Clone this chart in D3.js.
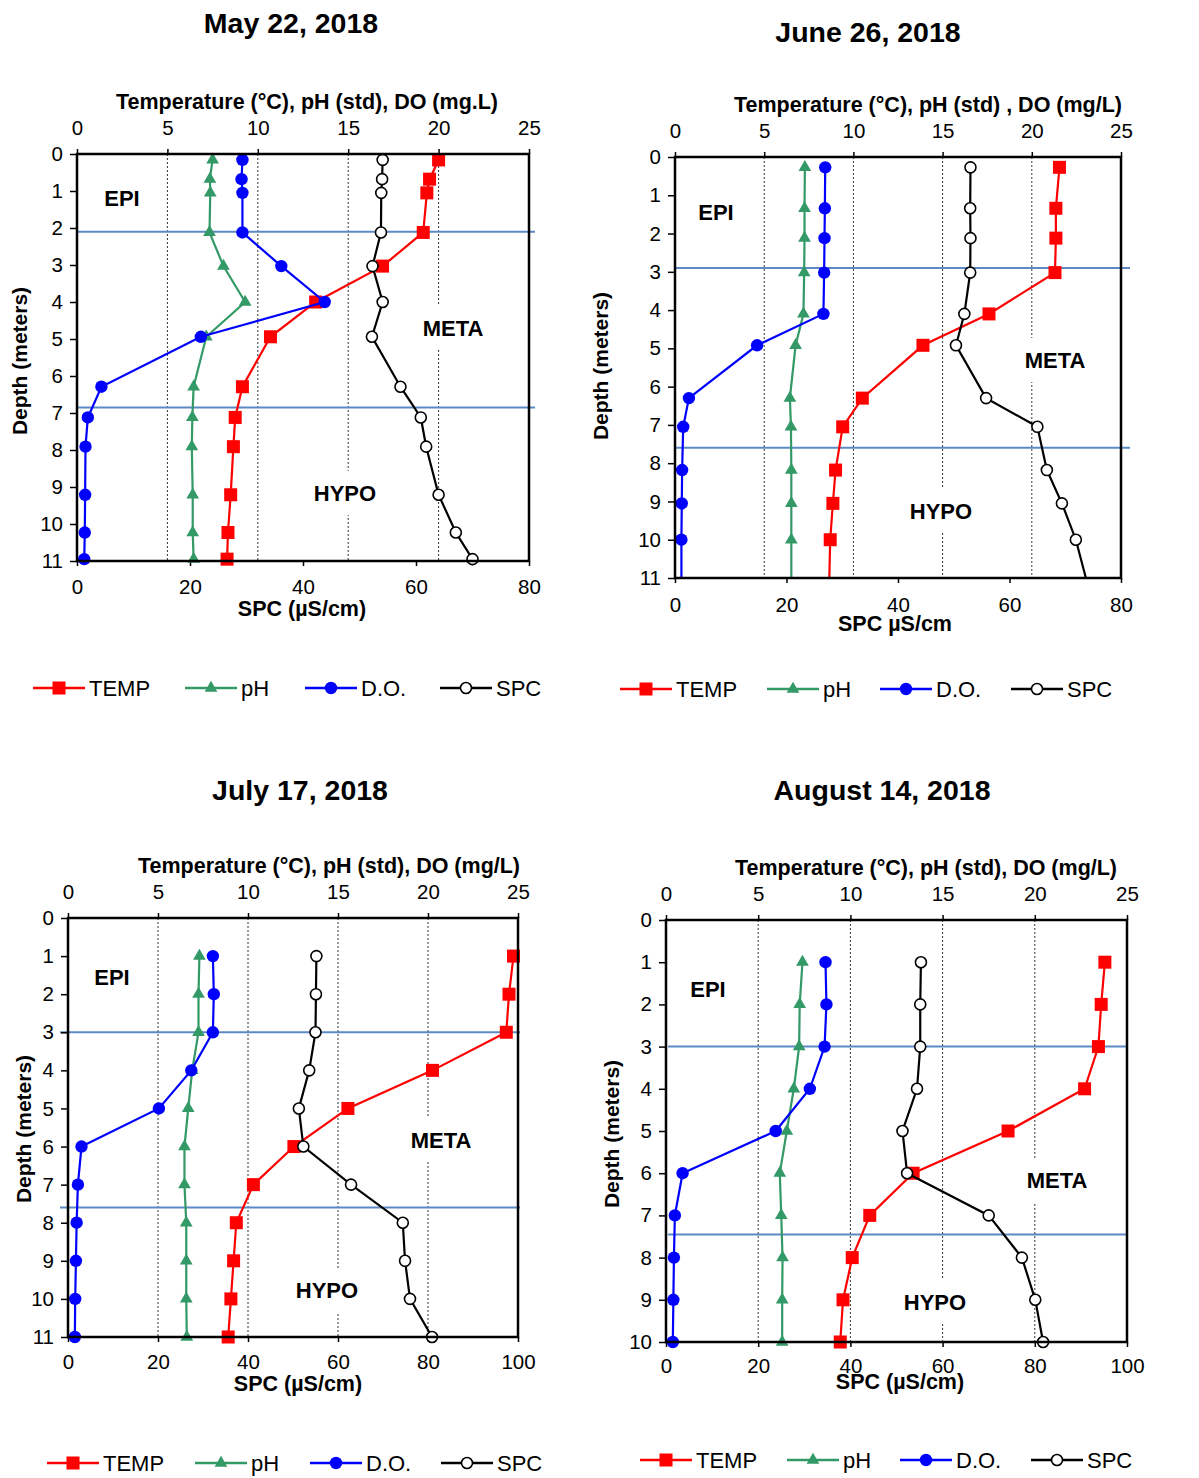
<!DOCTYPE html>
<html><head><meta charset="utf-8">
<script src="https://cdn.jsdelivr.net/npm/d3@7"></script>
<style>
body{margin:0;background:#fff;}
text{font-family:"Liberation Sans",Arial,Helvetica,sans-serif;fill:#000;}
</style>
</head><body>
<svg id="chart" width="1199" height="1478"></svg>
<script>
// ---------------- DATA ----------------
const seriesNames = ["TEMP", "pH", "D.O.", "SPC"];
const panelTitles = ["May 22, 2018", "June 26, 2018", "July 17, 2018", "August 14, 2018"];
const topAxisTitles = [
  "Temperature (°C), pH (std), DO (mg.L)",
  "Temperature (°C), pH (std) , DO (mg/L)",
  "Temperature (°C), pH (std), DO (mg/L)",
  "Temperature (°C), pH (std), DO (mg/L)"
];
const bottomAxisTitles = ["SPC (µS/cm)", "SPC µS/cm", "SPC (µS/cm)", "SPC (µS/cm)"];
const depthAxisTitle = "Depth (meters)";
const zoneLabels = ["EPI", "META", "HYPO"];

const topTicks = [0, 5, 10, 15, 20, 25];
const gridValues = [5, 10, 15, 20];
const spcTicks80 = [0, 20, 40, 60, 80];
const spcTicks100 = [0, 20, 40, 60, 80, 100];
const depthTicks11 = [0, 1, 2, 3, 4, 5, 6, 7, 8, 9, 10, 11];
const depthTicks10 = [0, 1, 2, 3, 4, 5, 6, 7, 8, 9, 10];

// May 22, 2018
const mayDepth = [0.16, 0.68, 1.05, 2.12, 3.03, 4.0, 4.94, 6.29, 7.12, 7.91, 9.21, 10.23, 10.95];
const mayTemp  = [20.0, 19.5, 19.35, 19.15, 16.9, 13.2, 10.7, 9.15, 8.75, 8.65, 8.5, 8.35, 8.3];
const maypH    = [7.5, 7.35, 7.37, 7.33, 8.1, 9.3, 7.15, 6.45, 6.38, 6.35, 6.4, 6.4, 6.45];
const mayDO    = [9.15, 9.1, 9.15, 9.15, 11.3, 13.7, 6.85, 1.35, 0.6, 0.47, 0.45, 0.43, 0.4];
const maySPC   = [54.1, 54.0, 53.85, 53.8, 52.3, 54.1, 52.2, 57.25, 60.85, 61.8, 64.0, 67.05, 70.0];
const mayBounds = [2.1, 6.85];

// June 26, 2018 (last row: line reaches 11 m without a marker)
const juneDepth = [0.27, 1.34, 2.12, 3.02, 4.1, 4.92, 6.3, 7.05, 8.18, 9.05, 10.0, 11.0];
const juneTemp  = [21.55, 21.35, 21.35, 21.3, 17.6, 13.9, 10.5, 9.4, 9.0, 8.85, 8.7, 8.65];
const junepH    = [7.28, 7.26, 7.26, 7.24, 7.2, 6.76, 6.44, 6.5, 6.52, 6.52, 6.52, 6.52];
const juneDO    = [8.42, 8.4, 8.38, 8.36, 8.32, 4.6, 0.78, 0.46, 0.4, 0.38, 0.36, 0.36];
const juneSPC   = [53.0, 52.95, 53.0, 52.95, 51.9, 50.4, 55.8, 65.0, 66.7, 69.4, 71.9, 73.7];
const juneBounds = [2.9, 7.6];

// July 17, 2018
const julyDepth = [1, 2, 3, 4, 5, 6, 7, 8, 9, 10, 11];
const julyTemp  = [24.75, 24.5, 24.35, 20.25, 15.55, 12.55, 10.3, 9.35, 9.2, 9.05, 8.9];
const julypH    = [7.3, 7.25, 7.25, 6.9, 6.68, 6.47, 6.47, 6.57, 6.57, 6.57, 6.6];
const julyDO    = [8.05, 8.1, 8.05, 6.85, 5.05, 0.75, 0.55, 0.48, 0.44, 0.4, 0.38];
const julySPC   = [55.2, 55.1, 55.0, 53.6, 51.3, 52.3, 62.9, 74.4, 74.9, 76.0, 80.9];
const julyBounds = [3.0, 7.6];

// August 14, 2018
const augDepth = [1, 2, 3, 4, 5, 6, 7, 8, 9, 10];
const augTemp  = [23.8, 23.6, 23.45, 22.7, 18.55, 13.4, 11.05, 10.1, 9.6, 9.45];
const augpH    = [7.4, 7.25, 7.22, 6.93, 6.55, 6.17, 6.25, 6.32, 6.3, 6.3];
const augDO    = [8.65, 8.7, 8.6, 7.8, 5.95, 0.9, 0.48, 0.43, 0.4, 0.37];
const augSPC   = [55.3, 55.15, 55.15, 54.45, 51.3, 52.3, 70.0, 77.2, 80.1, 81.8];
const augBounds = [3.0, 7.45];

// ---------------- LAYOUT / STYLE ----------------
const colors = {TEMP: "#ff0000", pH: "#339966", "D.O.": "#0000ff", SPC: "#000000"};
const boundColor = "#5b8ac6";

const panels = [
  {title: panelTitles[0], topTitle: topAxisTitles[0], botTitle: bottomAxisTitles[0],
   depth: mayDepth, vals: [mayTemp, maypH, mayDO, maySPC], bounds: mayBounds,
   depthTicks: depthTicks11, depthMax: 11, spcTicks: spcTicks80, spcMax: 80, markAll: true,
   L: 77, R: 529, T: 154, B: 561,
   titleX: 291, titleY: 23, topTitleX: 307, botTitleX: 302, botTickDy: 26, botTitleDy: 47,
   yTitleX: 20, yTitleY: 361, boundX: [77, 535],
   labels: [[122, 198], [453, 328], [345, 493]],
   legY: 688, legX: [33, 185, 305, 440]},
  {title: panelTitles[1], topTitle: topAxisTitles[1], botTitle: bottomAxisTitles[1],
   depth: juneDepth, vals: [juneTemp, junepH, juneDO, juneSPC], bounds: juneBounds,
   depthTicks: depthTicks11, depthMax: 11, spcTicks: spcTicks80, spcMax: 80, markAll: false,
   L: 675, R: 1121, T: 157, B: 578,
   titleX: 868, titleY: 32, topTitleX: 928, botTitleX: 895, botTickDy: 27, botTitleDy: 45,
   yTitleX: 601, yTitleY: 366, boundX: [675, 1130],
   labels: [[716, 212], [1055, 360], [941, 511]],
   legY: 689, legX: [620, 767, 880, 1011]},
  {title: panelTitles[2], topTitle: topAxisTitles[2], botTitle: bottomAxisTitles[2],
   depth: julyDepth, vals: [julyTemp, julypH, julyDO, julySPC], bounds: julyBounds,
   depthTicks: depthTicks11, depthMax: 11, spcTicks: spcTicks100, spcMax: 100, markAll: true,
   L: 68, R: 518, T: 918, B: 1337,
   titleX: 300, titleY: 790, topTitleX: 329, botTitleX: 298, botTickDy: 25, botTitleDy: 46,
   yTitleX: 24, yTitleY: 1129, boundX: [60, 520],
   labels: [[112, 977], [441, 1140], [327, 1290]],
   legY: 1463, legX: [47, 195, 310, 441]},
  {title: panelTitles[3], topTitle: topAxisTitles[3], botTitle: bottomAxisTitles[3],
   depth: augDepth, vals: [augTemp, augpH, augDO, augSPC], bounds: augBounds,
   depthTicks: depthTicks10, depthMax: 10, spcTicks: spcTicks100, spcMax: 100, markAll: true,
   L: 666, R: 1127, T: 920, B: 1342,
   titleX: 882, titleY: 790, topTitleX: 926, botTitleX: 900, botTickDy: 24, botTitleDy: 39,
   yTitleX: 612, yTitleY: 1134, boundX: [668, 1127],
   labels: [[708, 989], [1057, 1180], [935, 1302]],
   legY: 1460, legX: [640, 787, 900, 1031]}
];

const svg = d3.select("#chart");

function drawMarker(g, name, x, y) {
  const c = colors[name];
  if (name === "TEMP") {
    g.append("rect").attr("x", x - 6.5).attr("y", y - 6.5).attr("width", 13).attr("height", 13).attr("fill", c);
  } else if (name === "pH") {
    g.append("path").attr("d", d3.symbol(d3.symbolTriangle, 70)()).attr("transform", `translate(${x},${y})`).attr("fill", c);
  } else if (name === "D.O.") {
    g.append("circle").attr("cx", x).attr("cy", y).attr("r", 6.2).attr("fill", c);
  } else {
    g.append("circle").attr("cx", x).attr("cy", y).attr("r", 5.5).attr("fill", "#fff").attr("stroke", c).attr("stroke-width", 1.6);
  }
}

panels.forEach(p => {
  const g = svg.append("g");
  const y = d3.scaleLinear().domain([0, p.depthMax]).range([p.T, p.B]);
  const xTop = d3.scaleLinear().domain([0, 25]).range([p.L, p.R]);
  const xBot = d3.scaleLinear().domain([0, p.spcMax]).range([p.L, p.R]);

  // title
  g.append("text").attr("x", p.titleX).attr("y", p.titleY).attr("dy", "0.35em")
    .attr("text-anchor", "middle").attr("font-size", 28.5).attr("font-weight", "bold").text(p.title);

  // gridlines
  g.selectAll(".grid").data(gridValues).enter().append("line")
    .attr("x1", d => xTop(d)).attr("x2", d => xTop(d)).attr("y1", p.T).attr("y2", p.B)
    .attr("stroke", "#000").attr("stroke-width", 0.8).attr("stroke-dasharray", "2,2");

  // zone labels with white background
  zoneLabels.forEach((lab, i) => {
    const [lx, ly] = p.labels[i];
    const t = g.append("text").attr("x", lx).attr("y", ly).attr("dy", "0.35em")
      .attr("text-anchor", "middle").attr("font-size", 22).attr("font-weight", "bold").text(lab);
    const w = t.node().getComputedTextLength();
    g.insert("rect", () => t.node()).attr("x", lx - w / 2 - 6).attr("y", ly - 22)
      .attr("width", w + 12).attr("height", 44).attr("fill", "#fff");
  });

  // boundary lines
  g.selectAll(".bound").data(p.bounds).enter().append("line")
    .attr("x1", p.boundX[0]).attr("x2", p.boundX[1]).attr("y1", d => y(d)).attr("y2", d => y(d))
    .attr("stroke", boundColor).attr("stroke-width", 2);

  // axes
  const topAxis = d3.axisTop(xTop).tickValues(topTicks).tickSize(5).tickPadding(6).tickFormat(d3.format("d"));
  const botAxis = d3.axisBottom(xBot).tickValues(p.spcTicks).tickSize(5).tickFormat(d3.format("d"));
  const leftAxis = d3.axisLeft(y).tickValues(p.depthTicks).tickSize(7).tickPadding(7).tickFormat(d3.format("d"));

  const ta = g.append("g").attr("transform", `translate(0,${p.T})`).call(topAxis);
  const ba = g.append("g").attr("transform", `translate(0,${p.B})`).call(botAxis);
  const la = g.append("g").attr("transform", `translate(${p.L},0)`).call(leftAxis);
  [ta, ba, la].forEach(a => {
    a.select(".domain").remove();
    a.selectAll(".tick line").attr("stroke", "#000").attr("stroke-width", 1.5);
    a.selectAll(".tick text").attr("font-size", 20.5).attr("fill", "#000")
      .attr("font-family", '"Liberation Sans",Arial,sans-serif');
  });
  ta.selectAll(".tick text").attr("y", -26).attr("dy", "0.35em");
  ba.selectAll(".tick text").attr("y", p.botTickDy).attr("dy", "0.35em");

  // axis titles
  g.append("text").attr("x", p.topTitleX).attr("y", p.T - 53).attr("dy", "0.35em")
    .attr("text-anchor", "middle").attr("font-size", 21.5).attr("font-weight", "bold").text(p.topTitle);
  g.append("text").attr("x", p.botTitleX).attr("y", p.B + p.botTitleDy).attr("dy", "0.35em")
    .attr("text-anchor", "middle").attr("font-size", 21.5).attr("font-weight", "bold").text(p.botTitle);
  g.append("text").attr("transform", `translate(${p.yTitleX},${p.yTitleY}) rotate(-90)`).attr("dy", "0.35em")
    .attr("text-anchor", "middle").attr("font-size", 21).attr("font-weight", "bold").text(depthAxisTitle);

  // series
  seriesNames.forEach((name, si) => {
    const xs = name === "SPC" ? xBot : xTop;
    const vals = p.vals[si];
    const pts = p.depth.map((d, i) => [xs(vals[i]), y(d)]);
    g.append("path").datum(pts).attr("d", d3.line()).attr("fill", "none")
      .attr("stroke", colors[name]).attr("stroke-width", 2.2);
    const n = p.markAll ? pts.length : pts.length - 1;
    const mg = g.append("g");
    pts.slice(0, n).forEach(([px, py]) => drawMarker(mg, name, px, py));
  });

  // frame
  g.append("rect").attr("x", p.L).attr("y", p.T).attr("width", p.R - p.L).attr("height", p.B - p.T)
    .attr("fill", "none").attr("stroke", "#000").attr("stroke-width", 2.5);

  // legend
  seriesNames.forEach((name, si) => {
    const lx = p.legX[si];
    const lg = g.append("g");
    lg.append("line").attr("x1", lx).attr("x2", lx + 52).attr("y1", p.legY).attr("y2", p.legY)
      .attr("stroke", colors[name]).attr("stroke-width", 2.5);
    drawMarker(lg, name, lx + 26, p.legY);
    lg.append("text").attr("x", lx + 56).attr("y", p.legY).attr("dy", "0.35em")
      .attr("font-size", 22).text(name);
  });
});
</script>
</body></html>
